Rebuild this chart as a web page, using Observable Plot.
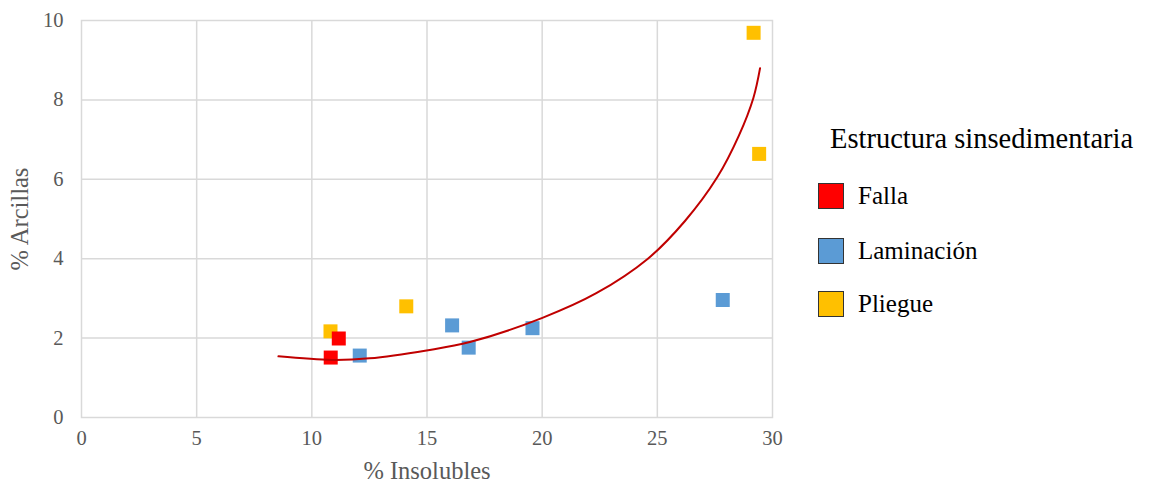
<!DOCTYPE html>
<html>
<head>
<meta charset="utf-8">
<script src="https://cdn.jsdelivr.net/npm/d3@7"></script>
<script src="https://cdn.jsdelivr.net/npm/@observablehq/plot@0.6"></script>
<style>
  body { margin: 0; background: #fff; }
  #wrap { position: relative; width: 1149px; height: 490px; font-family: "Liberation Serif", "Times New Roman", serif; }
  #legend { position: absolute; left: 0; top: 0; width: 1149px; height: 490px; pointer-events: none; }
  .lg-title { position: absolute; left: 830px; top: 122px; font-size: 28.5px; color: #000; white-space: nowrap; line-height: 34px; }
  .lg-item { position: absolute; left: 818px; height: 28px; display: flex; align-items: center; font-size: 25px; color: #000; white-space: nowrap; }
  .lg-sw { width: 26px; height: 26px; border: 1px solid #333; box-sizing: border-box; margin-right: 14px; }
</style>
</head>
<body>
<div id="wrap"><div id="chart"></div><div id="legend"></div></div>
<script>
// ---- data ----
const categories = ["Falla", "Laminación", "Pliegue"];
const colors = ["#ff0000", "#5b9bd5", "#ffc000"];

const fallaX = [10.82, 11.17];
const fallaY = [1.51, 1.99];

const laminacionX = [12.08, 16.09, 16.81, 19.58, 27.84];
const laminacionY = [1.56, 2.32, 1.76, 2.25, 2.96];

const pliegueX = [10.81, 14.10, 29.18, 29.42];
const pliegueY = [2.17, 2.80, 9.69, 6.64];

// trend line
const trendX = [8.55, 10.87, 12.5, 14.98, 16.86, 20.01, 22.35, 24.59, 26.2, 27.6, 28.54, 29.17, 29.46];
const trendY = [1.54, 1.45, 1.49, 1.69, 1.90, 2.51, 3.13, 4.0, 4.95, 6.05, 7.1, 8.05, 8.8];

const xTicks = [0, 5, 10, 15, 20, 25, 30];
const yTicks = [0, 2, 4, 6, 8, 10];
const xTitle = "% Insolubles";
const yTitle = "% Arcillas";
const legendTitle = "Estructura sinsedimentaria";

// ---- build tables ----
const toRows = (xs, ys, cat) => xs.map((x, i) => ({x, y: ys[i], cat}));
const falla = toRows(fallaX, fallaY, categories[0]);
const laminacion = toRows(laminacionX, laminacionY, categories[1]);
const pliegue = toRows(pliegueX, pliegueY, categories[2]);
const trend = trendX.map((x, i) => ({x, y: trendY[i]}));

const sq = {symbol: "square", r: 7.9};

const chart = Plot.plot({
  width: 1149,
  height: 490,
  marginLeft: 81,
  marginRight: 377,
  marginTop: 20,
  marginBottom: 73,
  x: {domain: [0, 30]},
  y: {domain: [0, 10]},
  color: {domain: categories, range: colors},
  style: {fontFamily: "'Liberation Serif', 'Times New Roman', serif", background: "#fff"},
  marks: [
    Plot.gridX(xTicks.slice(1, -1), {stroke: "#d9d9d9", strokeOpacity: 1, strokeWidth: 1.5}),
    Plot.gridY(yTicks.slice(1, -1), {stroke: "#d9d9d9", strokeOpacity: 1, strokeWidth: 1.5}),
    Plot.frame({stroke: "#d9d9d9", strokeWidth: 1.5}),
    Plot.axisX(xTicks, {tickSize: 0, tickPadding: 13, fontSize: 20.5, color: "#595959", label: null}),
    Plot.axisY(yTicks, {tickSize: 0, tickPadding: 18, fontSize: 20.5, color: "#595959", label: null}),
    Plot.text([xTitle], {frameAnchor: "bottom", dy: 54, lineAnchor: "middle", textAnchor: "middle", fontSize: 24.5, fill: "#595959"}),
    Plot.text([yTitle], {frameAnchor: "left", dx: -61, textAnchor: "middle", lineAnchor: "middle", rotate: -90, fontSize: 24.5, fill: "#595959"}),
    Plot.dot(pliegue, {x: "x", y: "y", fill: "cat", ...sq}),
    Plot.dot(laminacion, {x: "x", y: "y", fill: "cat", ...sq}),
    Plot.dot(falla, {x: "x", y: "y", fill: "cat", ...sq}),
    Plot.line(trend, {x: "x", y: "y", stroke: "#c00000", strokeWidth: 2, curve: "catmull-rom"})
  ]
});
document.getElementById("chart").appendChild(chart);

// ---- legend ----
const lg = document.getElementById("legend");
const t = document.createElement("div");
t.className = "lg-title";
t.textContent = legendTitle;
lg.appendChild(t);
const rowTops = [182, 237, 290];
categories.forEach((c, i) => {
  const it = document.createElement("div");
  it.className = "lg-item";
  it.style.top = rowTops[i] + "px";
  const sw = document.createElement("div");
  sw.className = "lg-sw";
  sw.style.background = colors[i];
  it.appendChild(sw);
  const s = document.createElement("span");
  s.textContent = c;
  it.appendChild(s);
  lg.appendChild(it);
});
</script>
</body>
</html>
